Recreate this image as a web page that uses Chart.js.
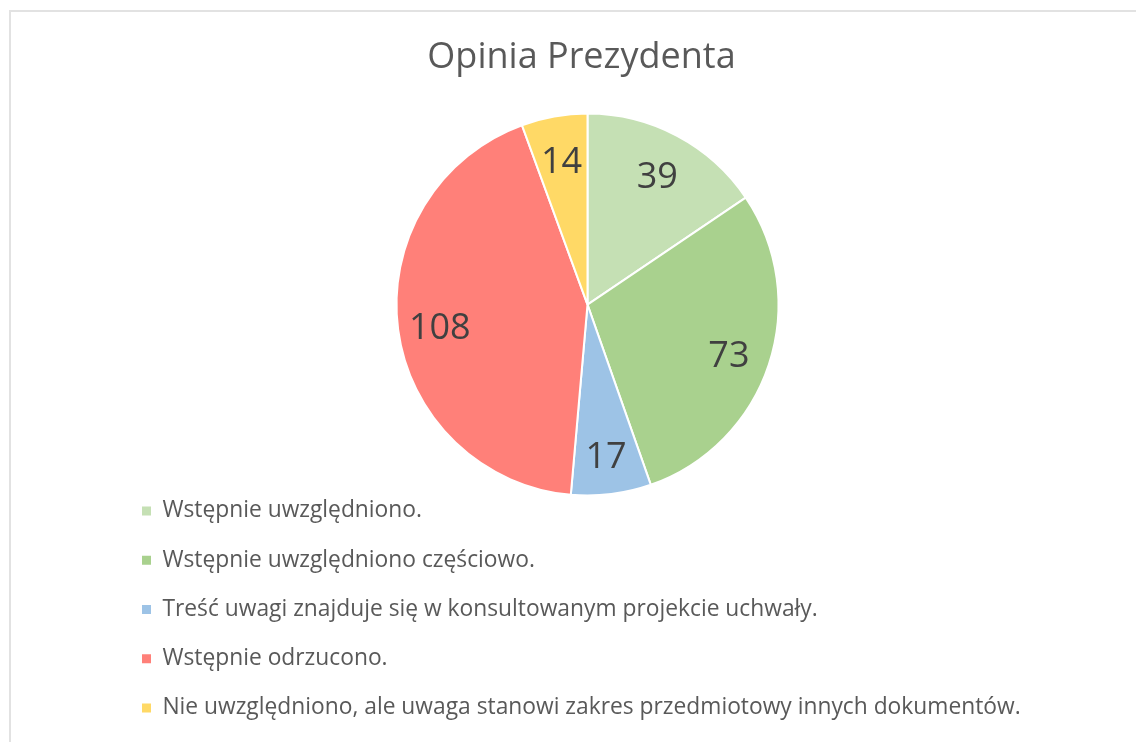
<!DOCTYPE html>
<html>
<head>
<meta charset="utf-8">
<script src="https://cdn.jsdelivr.net/npm/chart.js@4.4.1/dist/chart.umd.min.js"></script>
<style>
html, body { margin: 0; padding: 0; background: #ffffff; overflow: hidden; }
#frame { position: absolute; left: 9px; top: 10px; width: 1300px; height: 900px; border: 2px solid #e2e2e2; box-sizing: border-box; }
#wrap { position: absolute; left: 0; top: 0; width: 1136px; height: 742px; }
</style>
</head>
<body>
<div id="frame"></div>
<div id="wrap"><canvas id="c" width="1136" height="742"></canvas></div>
<script>
const chartTitle = 'Opinia Prezydenta';
const categories = [
  'Wstępnie uwzględniono.',
  'Wstępnie uwzględniono częściowo.',
  'Treść uwagi znajduje się w konsultowanym projekcie uchwały.',
  'Wstępnie odrzucono.',
  'Nie uwzględniono, ale uwaga stanowi zakres przedmiotowy innych dokumentów.'
];
const values = [39, 73, 17, 108, 14];
const sliceColors = ['#C5E0B4', '#A9D18E', '#9DC3E6', '#FF8079', '#FFD966'];

const FONT = '"Open Sans", "Noto Sans", sans-serif';
const LEGEND_SIZE = 22.8;
const LABEL_SIZE = 36;

const sliceLabels = {
  id: 'sliceLabels',
  afterDatasetsDraw(chart) {
    const ctx = chart.ctx;
    const meta = chart.getDatasetMeta(0);
    const data = chart.data.datasets[0].data;
    ctx.save();
    ctx.font = LABEL_SIZE + 'px ' + FONT;
    ctx.fillStyle = '#404040';
    ctx.textAlign = 'center';
    ctx.textBaseline = 'middle';
    meta.data.forEach((arc, i) => {
      const p = arc.getProps(['x', 'y', 'startAngle', 'endAngle', 'outerRadius'], true);
      const mid = (p.startAngle + p.endAngle) / 2;
      const r = p.outerRadius * 0.78;
      ctx.fillText(String(data[i]), p.x + Math.cos(mid) * r, p.y + Math.sin(mid) * r + LABEL_SIZE * 0.14);
    });
    ctx.restore();
  }
};

const layoutTweaks = {
  id: 'layoutTweaks',
  afterLayout(chart) {
    const tb = chart.titleBlock;
    if (tb) { tb.left -= 6; tb.right -= 6; }
    const lg = chart.legend;
    if (!lg) return;
    const pad = lg.options.labels.padding;
    const fs = lg.options.labels.font.size;
    lg.left = 142 - pad;
    lg.top = 511 - fs / 2 - pad;
    lg.right = 1130;
    lg.bottom = 3000;
    lg.width = lg.right - lg.left;
    lg.height = lg.bottom - lg.top;
  }
};

new Chart(document.getElementById('c'), {
  type: 'pie',
  data: {
    labels: categories,
    datasets: [{
      data: values,
      backgroundColor: sliceColors,
      borderColor: '#ffffff',
      borderWidth: 2
    }]
  },
  options: {
    responsive: false,
    devicePixelRatio: 1,
    animation: false,
    radius: 191,
    layout: { padding: { left: 39, right: 0, top: 36, bottom: 212 } },
    plugins: {
      title: {
        display: true,
        text: chartTitle,
        color: '#595959',
        font: { family: FONT, size: 36, weight: 'normal', lineHeight: 1.2 },
        padding: { top: 0, bottom: 0 }
      },
      legend: {
        display: true,
        position: 'chartArea',
        align: 'start',
        labels: {
          color: '#595959',
          font: { family: FONT, size: LEGEND_SIZE },
          boxWidth: 9,
          boxHeight: 9,
          padding: 49.25 - LEGEND_SIZE,
          generateLabels(chart) {
            const items = Chart.overrides.pie.plugins.legend.labels.generateLabels(chart);
            items.forEach(it => { it.lineWidth = 0; });
            return items;
          }
        }
      },
      tooltip: { enabled: false }
    }
  },
  plugins: [sliceLabels, layoutTweaks]
});
</script>
</body>
</html>
